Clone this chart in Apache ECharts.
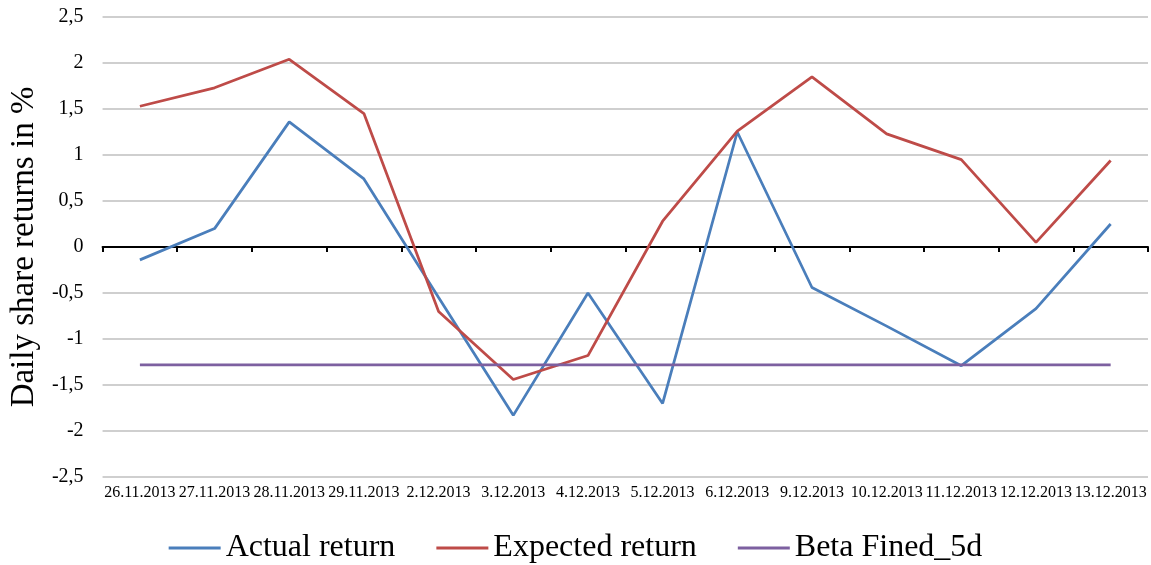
<!DOCTYPE html>
<html>
<head>
<meta charset="utf-8">
<script src="https://cdn.jsdelivr.net/npm/echarts@6/dist/echarts.min.js"></script>
<style>
  html, body { margin: 0; padding: 0; background: #fff; }
  #chart { width: 1151px; height: 565px; }
</style>
</head>
<body>
<div id="chart"></div>
<script>
// Trading days
const dates = ['26.11.2013', '27.11.2013', '28.11.2013', '29.11.2013', '2.12.2013', '3.12.2013', '4.12.2013',
  '5.12.2013', '6.12.2013', '9.12.2013', '10.12.2013', '11.12.2013', '12.12.2013', '13.12.2013'];

// Daily share returns, %
const actualReturn = [-0.14, 0.20, 1.36, 0.74, -0.55, -1.83, -0.50, -1.70, 1.25, -0.44, -0.86, -1.29, -0.67, 0.25];
const expectedReturn = [1.53, 1.73, 2.04, 1.45, -0.70, -1.44, -1.18, 0.28, 1.26, 1.85, 1.23, 0.95, 0.05, 0.94];
const betaFined5d = [-1.28, -1.28, -1.28, -1.28, -1.28, -1.28, -1.28, -1.28, -1.28, -1.28, -1.28, -1.28, -1.28, -1.28];

const serif = '"Liberation Serif", "Times New Roman", serif';
const chart = echarts.init(document.getElementById('chart'), null, { renderer: 'canvas' });

const lineSeries = (name, data, color) => ({
  name, type: 'line', data, xAxisIndex: 0, yAxisIndex: 0,
  symbol: 'none', smooth: false,
  lineStyle: { color, width: 2.75 },
  itemStyle: { color },
  emphasis: { disabled: true }
});

chart.setOption({
  animation: false,
  backgroundColor: '#ffffff',
  grid: { left: 101, right: 3, top: 17, bottom: 88, containLabel: false },
  legend: {
    top: 527, left: 'center',
    icon: 'rect', itemWidth: 52, itemHeight: 3, itemGap: 41,
    textStyle: { fontFamily: serif, fontSize: 32, color: '#000' },
    data: ['Actual return', 'Expected return', 'Beta Fined_5d']
  },
  xAxis: [
    {
      type: 'category', data: dates, position: 'bottom', boundaryGap: true,
      axisLine: { show: false }, axisTick: { show: false },
      axisLabel: { interval: 0, margin: 8, fontFamily: serif, fontSize: 16, color: '#000' },
      splitLine: { show: false }
    },
    {
      // zero line with category boundary ticks
      type: 'category', data: dates, position: 'top', boundaryGap: true,
      axisLine: { show: true, onZero: true, onZeroAxisIndex: 0, lineStyle: { color: '#000', width: 2 } },
      axisTick: { show: true, inside: true, length: 5, interval: 0, lineStyle: { color: '#000', width: 2 } },
      axisLabel: { show: false },
      splitLine: { show: false }
    }
  ],
  yAxis: {
    type: 'value', min: -2.5, max: 2.5, interval: 0.5,
    name: 'Daily share returns in %', nameLocation: 'middle', nameRotate: 90, nameGap: 53,
    nameTextStyle: { fontFamily: serif, fontSize: 33, color: '#000' },
    axisLine: { show: false }, axisTick: { show: false },
    axisLabel: {
      margin: 19, fontFamily: serif, fontSize: 20, color: '#000',
      formatter: v => String(v).replace('.', ',')
    },
    splitLine: { show: true, lineStyle: { color: '#BFBFBF', width: 1.5 } }
  },
  series: [
    lineSeries('Actual return', actualReturn, '#4A7EBB'),
    lineSeries('Expected return', expectedReturn, '#BE4B48'),
    lineSeries('Beta Fined_5d', betaFined5d, '#7D60A0')
  ]
});
</script>
</body>
</html>
